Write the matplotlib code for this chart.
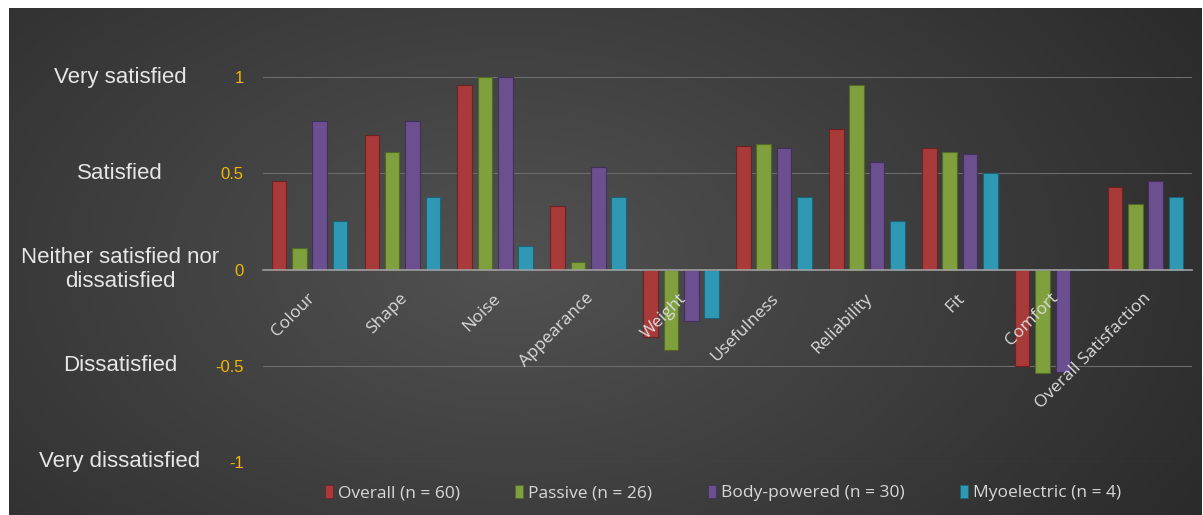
import numpy as np
import matplotlib
matplotlib.use("Agg")
import matplotlib.pyplot as plt
from matplotlib.patches import Patch
from matplotlib.transforms import blended_transform_factory, ScaledTranslation

# data
categories = ["Colour", "Shape", "Noise", "Appearance", "Weight", "Usefulness",
              "Reliability", "Fit", "Comfort", "Overall Satisfaction"]
overall = [0.46, 0.70, 0.96, 0.33, -0.35, 0.64, 0.73, 0.63, -0.50, 0.43]
passive = [0.11, 0.61, 1.00, 0.04, -0.42, 0.65, 0.96, 0.61, -0.54, 0.34]
body_powered = [0.77, 0.77, 1.00, 0.53, -0.27, 0.63, 0.56, 0.60, -0.53, 0.46]
myoelectric = [0.25, 0.375, 0.12, 0.375, -0.25, 0.375, 0.25, 0.50, 0.0, 0.375]

series_names = ["Overall (n = 60)", "Passive (n = 26)",
                "Body-powered (n = 30)", "Myoelectric (n = 4)"]
series_values = [overall, passive, body_powered, myoelectric]
colors = ["#A83A3A", "#7FA03C", "#6B4F8F", "#2F99B5"]
edge_colors = ["#6E2222", "#516826", "#432F5C", "#1C6377"]

yticks = [-1, -0.5, 0, 0.5, 1]
ytick_text = ["-1", "-0.5", "0", "0.5", "1"]
level_names = ["Very dissatisfied", "Dissatisfied",
               "Neither satisfied nor\ndissatisfied", "Satisfied", "Very satisfied"]

W, H = 1203, 515
fig = plt.figure(figsize=(W / 100, H / 100), dpi=100, facecolor="white")

# dark radial background
bg = fig.add_axes([9 / W, 0, 1193 / W, 507 / H], zorder=0)
gx, gy = np.meshgrid(np.linspace(0, 1, 400), np.linspace(0, 1, 200))
r = np.sqrt(((gx - 0.42) / 0.75) ** 2 + ((gy - 0.5) / 1.1) ** 2)
shade = np.clip(0.32 - 0.17 * r, 0.14, 0.32)
bg.imshow(np.dstack([shade, shade, shade]), aspect="auto", extent=[0, 1, 0, 1])
bg.axis("off")

# plot area: y=1 at px 77, y=-1 at px 462
ax = fig.add_axes([263 / W, (H - 462) / H, 929 / W, 385 / H], zorder=1)
ax.patch.set_alpha(0)
ax.set_ylim(-1, 1)
ax.set_xlim(-0.5, len(categories) - 0.5)
ax.set_axisbelow(False)

x = np.arange(len(categories))
pitch = 0.219
width = 0.157
for k, (name, vals) in enumerate(zip(series_names, series_values)):
    ax.bar(x + (k - 1.5) * pitch, vals, width, color=colors[k],
           edgecolor=edge_colors[k], linewidth=0.8, label=name,
           clip_on=False, zorder=2)

for yv in [-1, -0.5, 0.5, 1]:
    ax.axhline(yv, color="#6C6C6C", linewidth=0.8, zorder=1)

for s in ["top", "right", "left"]:
    ax.spines[s].set_visible(False)
ax.spines["bottom"].set_position(("data", 0))
ax.spines["bottom"].set_color("#A0A0A0")
ax.spines["bottom"].set_linewidth(1.2)

ax.set_xticks(x)
ax.set_xticklabels(categories, rotation=45, ha="right", va="top",
                   rotation_mode="anchor", fontsize=12.5, color="#DADADA",
                   family="Open Sans")
ax.tick_params(axis="x", length=0, pad=15)
for lab in ax.get_xticklabels():
    lab.set_transform(lab.get_transform() + ScaledTranslation(-3 / 100, 0, fig.dpi_scale_trans))

ax.set_yticks(yticks)
ax.set_yticklabels(ytick_text, fontsize=12, color="#F2B705", family="Liberation Sans")
ax.tick_params(axis="y", length=0, pad=14)

tr = blended_transform_factory(fig.transFigure, ax.transData)
for yv, txt in zip(yticks, level_names):
    fig.text(120 / W, yv, txt, transform=tr, ha="center", va="center",
             fontsize=16, color="#E6E6E6", family="Liberation Sans",
             multialignment="center", linespacing=1.15)

handles = [Patch(facecolor=c, edgecolor=e, linewidth=0.6) for c, e in zip(colors, edge_colors)]
leg = fig.legend(handles, series_names, loc="center", bbox_to_anchor=(723 / W, 1 - 493 / H),
                 ncol=4, frameon=False, handlelength=0.45, handleheight=0.75,
                 handletextpad=0.3, columnspacing=3.2,
                 prop={"family": "Open Sans", "size": 12.5})
for t in leg.get_texts():
    t.set_color("#D8D8D8")

fig.savefig("out.png", dpi=100, facecolor="white")
